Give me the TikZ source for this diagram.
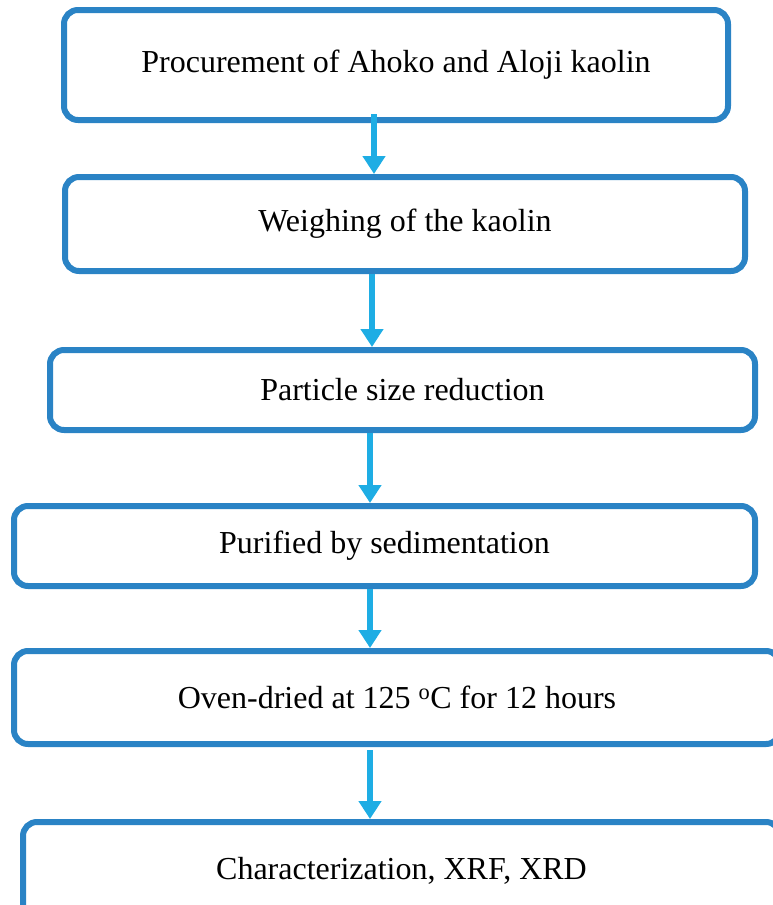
\documentclass[tikz,border=0pt]{standalone}
\usepackage{fontspec}
\setmainfont{Liberation Serif}
\usetikzlibrary{arrows.meta}
\definecolor{boxblue}{HTML}{2A83C5}
\definecolor{flowblue}{HTML}{1EADE4}

\begin{document}
\begin{tikzpicture}[x=1pt, y=-1pt, >={Triangle[width=22pt,length=18pt]},
  stage/.style={draw=boxblue, line width=6pt, rounded corners=14pt, fill=white,
    inner sep=0pt, font=\fontsize{32}{38}\selectfont}]

\useasboundingbox (0,0) rectangle (773,905);

\foreach \t/\cx/\cy/\w/\h [count=\i] in {
    {Procurement of Ahoko and Aloji kaolin}/396/65/664/110,
    {Weighing of the kaolin}/405/224/680/94,
    {Particle size reduction}/402.5/390/705/80,
    {Purified by sedimentation}/384.5/546/741/80,
    {Oven-dried at 125 \textsuperscript{o}C for 12 hours}/397/697.5/766/93,
    {Characterization, XRF, XRD}/401.5/871/757/98}
  \node [stage, minimum width=\w pt, minimum height=\h pt] (stage-\i) at (\cx,\cy) {\t};

\foreach \i/\ax/\s [count=\j from 2] in {1/374/-9, 2/372/0, 3/370/0, 4/370/0, 5/370/3}
  \draw [->, draw=flowblue, fill=flowblue, line width=6.5pt, shorten <=\s pt]
    (\ax,0 |- stage-\i.south) -- (\ax,0 |- stage-\j.north);

\end{tikzpicture}
\end{document}
